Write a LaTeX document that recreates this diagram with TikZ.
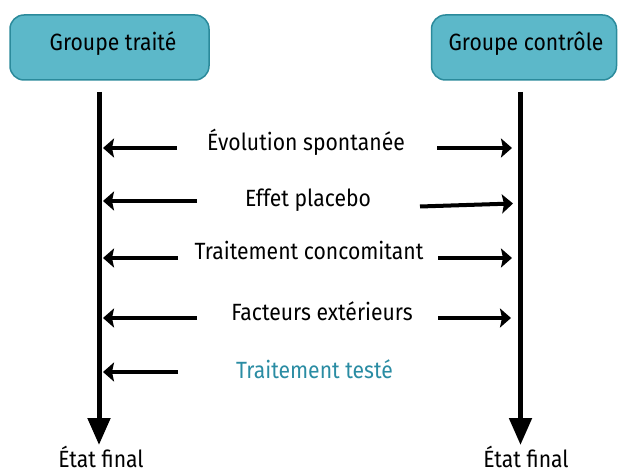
\documentclass[tikz,border=0pt]{standalone}
\usepackage{fontspec}
\setmainfont[FakeStretch=0.9]{Fira Sans}
\usetikzlibrary{arrows.meta}
\definecolor{boxfill}{HTML}{5CB8C9}
\definecolor{boxline}{HTML}{2B8A9B}
\definecolor{tealtext}{HTML}{2A8CA3}
\tikzset{
  grpbox/.style={draw=boxline, fill=boxfill, line width=1.5pt, rounded corners=14pt, minimum height=65pt, inner sep=0pt},
  lbl/.style={anchor=base, inner sep=0pt, font=\fontsize{23.5}{26}\selectfont},
  timeline/.style={line width=5pt, -{Triangle[length=27pt,width=22pt]}},
  effect/.style={line width=4pt, -{Stealth[length=11pt,width=19pt,inset=2pt]}}
}
\begin{document}
\begin{tikzpicture}[x=1pt,y=-1pt]
\useasboundingbox (0,0) rectangle (618,470);
% boxes
\node[grpbox, minimum width=199pt] (gt) at (109.5,47.5) {};
\node[grpbox, minimum width=185pt] (gc) at (524,47.5) {};
\node[lbl] (gtt) at (113,51) {Groupe traité};
\node[lbl] (gct) at (526,51) {Groupe contrôle};
% timelines
\coordinate (ls) at (99,92);
\coordinate (le) at (99,445);
\coordinate (rs) at (520.5,92);
\coordinate (re) at (520.5,445);
\draw[timeline] (ls) -- (le);
\draw[timeline] (rs) -- (re);
\node[lbl] (efl) at (101,467) {État final};
\node[lbl] (efr) at (526,467) {État final};
% row 1
\node[lbl] (t1) at (306,151) {Évolution spontanée};
\coordinate (a1) at (177,148); \coordinate (b1) at (103,148);
\coordinate (c1) at (437,148); \coordinate (d1) at (512,148);
\draw[effect] (a1) -- (b1);
\draw[effect] (c1) -- (d1);
% row 2
\node[lbl] (t2) at (308,207) {Effet placebo};
\coordinate (a2) at (197,201); \coordinate (b2) at (103,201);
\coordinate (c2) at (420,206.5); \coordinate (d2) at (513,203.5);
\draw[effect] (a2) -- (b2);
\draw[effect] (c2) -- (d2);
% row 3
\node[lbl] (t3) at (309,259) {Traitement concomitant};
\coordinate (a3) at (178,258); \coordinate (b3) at (103,258);
\coordinate (c3) at (438,258); \coordinate (d3) at (512,258);
\draw[effect] (a3) -- (b3);
\draw[effect] (c3) -- (d3);
% row 4
\node[lbl] (t4) at (322,320) {Facteurs extérieurs};
\coordinate (a4) at (197,318); \coordinate (b4) at (103,318);
\coordinate (c4) at (438,318); \coordinate (d4) at (511,318);
\draw[effect] (a4) -- (b4);
\draw[effect] (c4) -- (d4);
% row 5
\node[lbl, text=tealtext] (t5) at (314.5,378) {Traitement testé};
\coordinate (a5) at (178,372); \coordinate (b5) at (103,372);
\draw[effect] (a5) -- (b5);
\end{tikzpicture}
\end{document}
